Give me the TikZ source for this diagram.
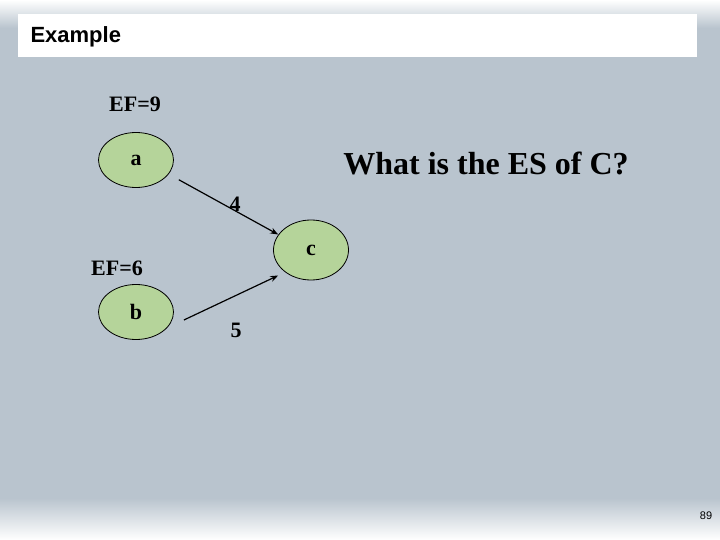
\documentclass[tikz,border=0pt]{standalone}
\usepackage{fontspec}
\setmainfont{Liberation Serif}
\newfontfamily\arialfont{Liberation Sans}
\usetikzlibrary{shapes.geometric,arrows.meta}
\definecolor{slate}{RGB}{185,196,206}
\definecolor{leaf}{RGB}{181,212,154}
\tikzset{
  task/.style={ellipse, draw=black, thick, fill=leaf, minimum width=75pt,
    minimum height=55pt, inner sep=0pt, font=\fontsize{22}{24}\selectfont\bfseries},
  link/.style={-{Stealth[length=8pt,width=6pt]}, line width=1.2pt},
  tag/.style={font=\fontsize{22}{24}\selectfont\bfseries, inner sep=0pt}
}
\begin{document}
\begin{tikzpicture}[x=1pt,y=-1pt]
  \useasboundingbox (0,0) rectangle (720,540);
  % slide background
  \fill[slate] (0,0) rectangle (720,540);
  \shade[top color=white, bottom color=slate] (0,0) rectangle (720,28);
  \shade[top color=slate, bottom color=white] (0,498) rectangle (720,540);
  \fill[white] (18,14) rectangle (697,57);
  \node[anchor=west, font=\arialfont\fontsize{22}{24}\selectfont\bfseries] (title) at (27,37) {Example};
  % tasks
  \node[task] (a) at (136,160) {a};
  \node[task] (b) at (136,312) {b};
  \node[task, minimum height=60pt] (c) at (311,250) {c};
  \node[tag] (efa) at (135,104) {EF=9};
  \node[tag] (efb) at (117,268) {EF=6};
  \draw[link] ([xshift=16pt]a.south east) -- ([xshift=-6pt,yshift=-6pt]c.north west);
  \draw[link] ([xshift=10pt,yshift=-8pt]b.east) -- ([xshift=-6pt,yshift=-4pt]c.south west);
  \node[tag] (wa) at (235,204) {4};
  \node[tag] (wb) at (236,330) {5};
  \node[font=\fontsize{32}{34}\selectfont\bfseries] (ask) at (486,163) {What is the ES of C?};
  \node[font=\arialfont\fontsize{11}{12}\selectfont] (page) at (706,516) {89};
\end{tikzpicture}
\end{document}
